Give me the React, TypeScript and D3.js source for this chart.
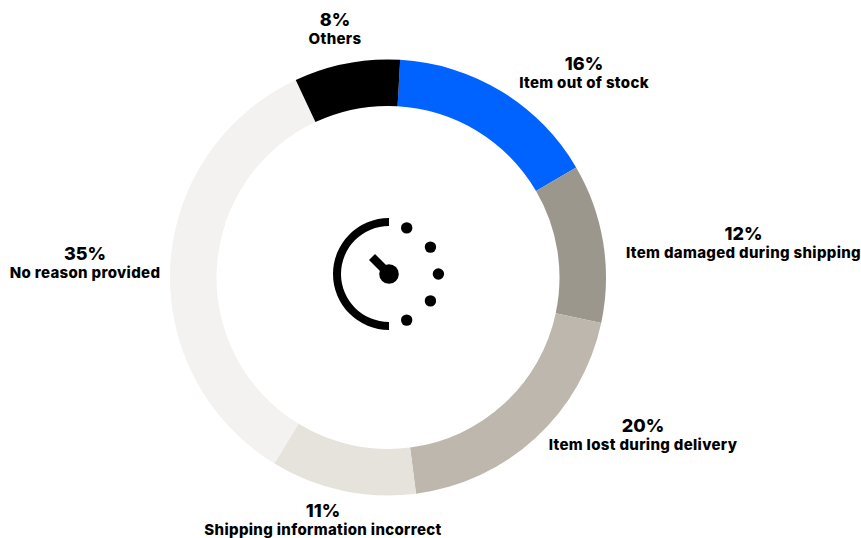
import React from "react";
import * as d3 from "d3";

const reasons = [
  "Item out of stock",
  "Item damaged during shipping",
  "Item lost during delivery",
  "Shipping information incorrect",
  "No reason provided",
  "Others",
];
const shares = [16, 12, 20, 11, 35, 8];
const sliceColors = ["#0062ff", "#9c978c", "#bdb7ad", "#e5e3dc", "#f3f2f0", "#000000"];
const labelX = [584, 743.5, 643, 323, 85, 335];
const labelY = [70, 240, 432, 517, 260, 26];
const dialDotAngles = [21, 57, 90, 123, 159];

const WIDTH = 861;
const HEIGHT = 538;
const CX = 388;
const CY = 277.5;
const OUTER = 218;
const INNER = 171.5;
const START = (3.2 * Math.PI) / 180;
const FONT = "Inter, sans-serif";

export default function App() {
  const pie = d3
    .pie<number>()
    .sort(null)
    .startAngle(START)
    .endAngle(START + 2 * Math.PI);
  const arc = d3.arc<d3.PieArcDatum<number>>().innerRadius(INNER).outerRadius(OUTER);
  const slices = pie(shares);

  // Clock icon: half-circle rim, hub, hand and five dots standing in for the dashed half.
  const ix = 389;
  const iy = 274;
  const rim = d3.arc()({
    innerRadius: 48,
    outerRadius: 56,
    startAngle: Math.PI,
    endAngle: 2 * Math.PI,
  }) as string;
  const dotPos = (deg: number) => {
    const a = (deg * Math.PI) / 180;
    return [ix + 49.4 * Math.sin(a), iy - 49.4 * Math.cos(a)];
  };

  return (
    <svg
      width={WIDTH}
      height={HEIGHT}
      style={{ position: "absolute", left: 0, top: 0, background: "#fff" }}
    >
      <g transform={`translate(${CX},${CY})`}>
        {slices.map((s, i) => (
          <path key={reasons[i]} d={arc(s) as string} fill={sliceColors[i]} />
        ))}
      </g>
      <g fill="#000">
        <path d={rim} transform={`translate(${ix},${iy})`} />
        <circle cx={ix} cy={iy} r={9.8} />
        <line x1={ix} y1={iy} x2={ix - 17} y2={iy - 17} stroke="#000" strokeWidth={8.5} />
        {dialDotAngles.map((d) => {
          const [x, y] = dotPos(d);
          return <circle key={d} cx={x} cy={y} r={5.7} />;
        })}
      </g>
      <g fontFamily={FONT} fontWeight={800} fill="#000" textAnchor="middle">
        {reasons.map((r, i) => (
          <g key={r}>
            <text x={labelX[i]} y={labelY[i]} fontSize={18}>
              {shares[i]}%
            </text>
            <text x={labelX[i]} y={labelY[i] + 18} fontSize={15} letterSpacing={0.33}>
              {r}
            </text>
          </g>
        ))}
      </g>
    </svg>
  );
}
